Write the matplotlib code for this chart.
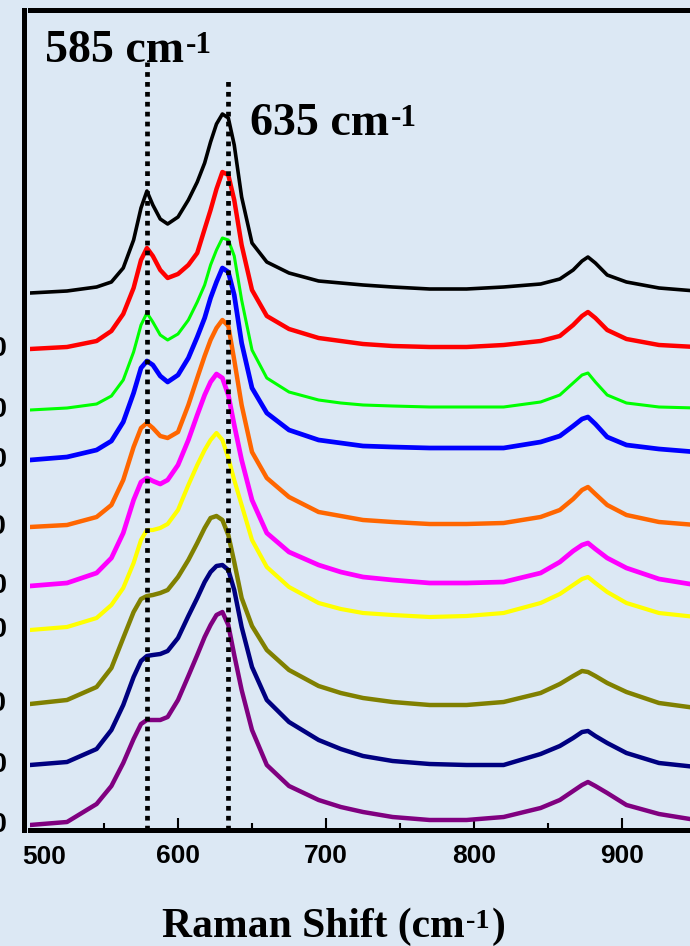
import matplotlib
matplotlib.use("Agg")
import matplotlib.pyplot as plt
import matplotlib.transforms as mtransforms

#########################
# Raman shift grid (cm-1), shared by all spectra
shift = [500, 525, 545, 555, 563, 570, 575, 579, 583, 588, 593, 600, 607, 613,
         618, 622, 626, 630, 634, 638, 643, 650, 660, 675, 695, 710, 725, 745,
         770, 795, 820, 845, 858, 867, 873, 877, 882, 890, 903, 925, 950]

# stacked spectra, intensity in a.u. (top to bottom)
black = [537, 539, 543, 548, 562, 590, 622, 639, 625, 611, 606, 613, 630, 648,
         667, 688, 706, 716, 712, 685, 633, 587, 568, 557, 549, 547, 545, 543,
         541, 541, 543, 546, 551, 560, 569, 573, 567, 555, 548, 542, 539]
red = [481, 483, 489, 499, 516, 542, 570, 582, 574, 560, 552, 556, 565, 577,
       601, 620, 641, 658, 655, 630, 585, 540, 514, 501, 492, 489, 486, 484,
       483, 483, 485, 489, 494, 505, 514, 518, 512, 500, 491, 485, 483]
green = [420, 422, 426, 434, 450, 478, 505, 517, 508, 495, 490, 496, 510, 528,
         545, 565, 580, 592, 590, 574, 530, 480, 452, 438, 430, 427, 425, 424,
         423, 423, 423, 428, 435, 447, 455, 457, 448, 435, 427, 423, 422]
blue = [370, 373, 380, 389, 408, 437, 462, 469, 465, 454, 448, 455, 472, 493,
        512, 532, 548, 562, 558, 535, 487, 442, 417, 400, 390, 387, 384, 383,
        382, 382, 382, 388, 394, 404, 411, 413, 406, 393, 385, 381, 378]
orange = [303, 305, 313, 325, 350, 383, 402, 407, 402, 394, 392, 398, 425, 452,
          474, 490, 502, 510, 504, 470, 425, 378, 352, 333, 318, 314, 310, 308,
          306, 306, 307, 313, 320, 331, 340, 343, 336, 325, 315, 308, 305]
magenta = [244, 247, 257, 272, 297, 330, 348, 352, 349, 346, 350, 365, 390, 415,
           435, 448, 456, 452, 435, 405, 370, 330, 297, 278, 265, 258, 253, 250,
           247, 247, 248, 257, 268, 279, 285, 287, 281, 272, 262, 251, 245]
yellow = [200, 203, 212, 225, 242, 267, 290, 300, 300, 302, 306, 320, 345, 365,
          380, 390, 397, 390, 372, 350, 325, 290, 263, 243, 227, 221, 217, 215,
          213, 214, 217, 227, 236, 245, 251, 253, 247, 238, 227, 217, 213]
olive = [126, 130, 143, 162, 192, 218, 231, 234, 235, 237, 240, 253, 270, 287,
         302, 312, 314, 310, 295, 268, 232, 204, 180, 160, 144, 137, 132, 128,
         125, 125, 128, 137, 146, 154, 159, 158, 154, 147, 138, 127, 122]
navy = [65, 68, 81, 100, 125, 153, 169, 174, 175, 176, 179, 192, 214, 232,
        248, 258, 264, 265, 260, 240, 203, 163, 130, 108, 90, 81, 74, 69,
        66, 65, 65, 76, 84, 92, 98, 99, 94, 87, 77, 67, 63]
purple = [5, 8, 26, 44, 67, 91, 106, 110, 110, 110, 113, 130, 154, 175,
          193, 205, 215, 218, 205, 175, 140, 100, 65, 44, 30, 23, 18, 13,
          10, 10, 13, 22, 30, 39, 45, 48, 44, 37, 25, 16, 10]

spectra = [black, red, green, blue, orange, magenta, yellow, olive, navy, purple]
colors = ["#000000", "#ff0000", "#00ff00", "#0000ff", "#ff6600",
          "#ff00ff", "#ffff00", "#808000", "#000080", "#800080"]
widths = [2.6, 3.2, 2.2, 3.4, 3.2, 3.4, 3.0, 3.2, 3.2, 3.2]

# sample labels at the left, cut off by the picture edge
sample_labels = ["10", "20", "30", "40", "50", "60", "70", "80", "90"]

peak_pos = [579, 634]
peak_top = [768, 752]

#########################
bg = "#dce8f4"
serif = "Liberation Serif"
sans = "Liberation Sans"

W, H = 690, 946
fig = plt.figure(figsize=(W / 100, H / 100), dpi=100, facecolor=bg)
# axes run past the right edge of the picture (the original is cropped)
ax = fig.add_axes([30 / W, 1 - 830 / H, 740 / W, 820 / H])
ax.set_facecolor(bg)
ax.set_xlim(500, 1000)
ax.set_ylim(0, 820)

for y, c, lw in zip(spectra, colors, widths):
    ax.plot(shift, y, "-", color=c, linewidth=lw,
            solid_joinstyle="round", solid_capstyle="round")

for x0, top in zip(peak_pos, peak_top):
    ax.plot((x0, x0), (0, top), color="black", linewidth=3.4,
            linestyle=(0, (1, 1.1)), dash_capstyle="butt", zorder=5)


def sup_label(x, y, base, sup, size, tail=""):
    """bold serif text with a small raised '-1', like the original"""
    t = fig.text(x, y, base, fontsize=size, fontweight="bold", family=serif,
                 ha="left", va="baseline")
    s = ax.annotate(sup, xy=(1, 1), xycoords=t, xytext=(1, -1),
                    textcoords="offset points", fontsize=size * 0.68,
                    fontweight="bold", family=serif, ha="left", va="top",
                    annotation_clip=False)
    if tail:
        ax.annotate(tail, xy=(1, 0), xycoords=(s, t), xytext=(1, 0),
                    textcoords="offset points", fontsize=size,
                    fontweight="bold", family=serif, ha="left", va="bottom",
                    annotation_clip=False)


sup_label(45 / W, 1 - 62 / H, "585 cm", "-1", 33)
sup_label(250 / W, 1 - 135 / H, "635 cm", "-1", 33)
sup_label(162 / W, 1 - 937 / H, "Raman Shift (cm", "-1", 30, ")")

trans = mtransforms.blended_transform_factory(fig.transFigure, ax.transData)
for lab, y in zip(sample_labels, spectra[1:]):
    ax.text(7 / W, y[0], lab, transform=trans, ha="right", va="center",
            fontsize=20, fontweight="bold", family=sans, clip_on=False)

# spines
for s in ["top", "bottom", "left"]:
    ax.spines[s].set_linewidth(3.6)
ax.spines["right"].set_visible(False)
ax.spines["left"].set_position(("outward", 4))

ax.set_xticks([600, 700, 800, 900])
ax.set_xticks([550, 650, 750, 850, 950], minor=True)
ax.tick_params(axis="x", which="major", direction="in", length=9, width=1.5, pad=10)
ax.tick_params(axis="x", which="minor", direction="in", length=5, width=1.5)
ax.tick_params(axis="x", labelsize=19)
ax.set_xticklabels(["600", "700", "800", "900"], fontweight="bold", family=sans)
fig.text(44 / W, 1 - 857 / H, "500", fontsize=19, fontweight="bold",
         family=sans, ha="center", va="center")

ax.set_yticks(range(0, 820, 109))
ax.tick_params(axis="y", direction="in", length=2.5, width=1.2, labelleft=False)

fig.savefig("out.png", dpi=100, facecolor=bg)
